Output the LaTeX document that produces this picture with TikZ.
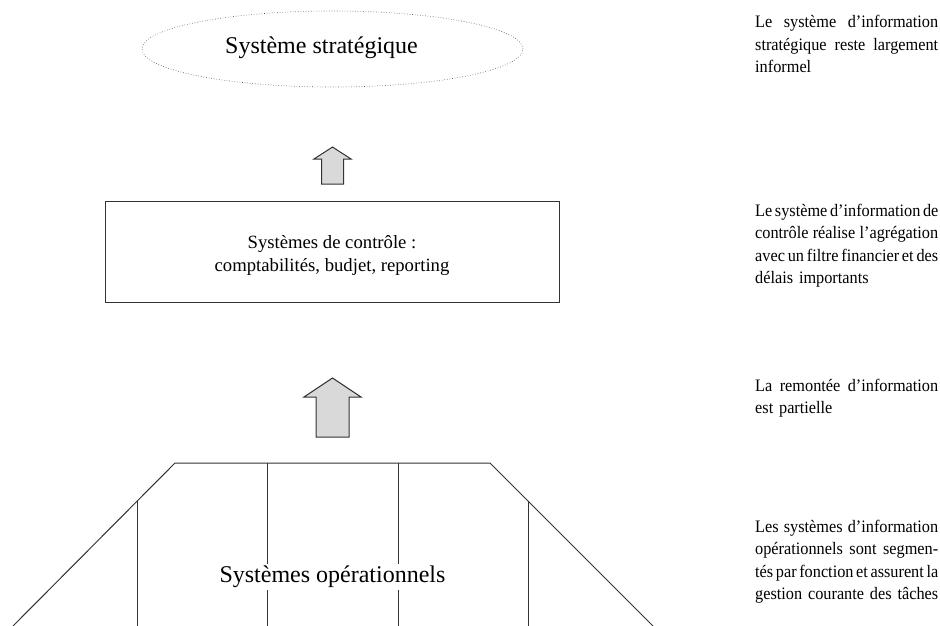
\documentclass[tikz,border=0pt]{standalone}
\usepackage{fontspec}
\setmainfont{Liberation Serif}
\newfontfamily\notefont[FakeStretch=0.93]{Liberation Serif}
\usetikzlibrary{positioning,calc,shapes.geometric}
\setlength{\parindent}{0pt}

\newcommand{\jline}[1]{{\spaceskip=0.25em plus 1em minus 0.1em\xspaceskip=0pt\makebox[183pt][s]{#1}}}

\begin{document}
\begin{tikzpicture}[
    x=1pt, y=-1pt,
    line/.style={draw=black!80, line width=1pt},
    bigtext/.style={font=\fontsize{24}{28}\selectfont},
    boxtext/.style={font=\fontsize{18.7}{23}\selectfont},
    blockarrow/.style={draw=black!80, line width=1pt, fill=black!15, line join=miter},
    note/.style={anchor=base west, inner sep=0pt, text width=183pt,
      font=\notefont\fontsize{17.5}{22.5}\selectfont}
  ]
    \useasboundingbox (0,0) rectangle (940,626);

    % les trois niveaux
    \node[ellipse, draw=black!70, dotted, line width=0.6pt, minimum width=381pt, minimum height=76pt] (strat) at (332.5,49) {};
    \node[bigtext] (stratlabel) at (321.5,48) {Système stratégique};
    \node[line, minimum width=454pt, minimum height=101pt] (ctrl) at (332,251.5) {};
    \node[boxtext, align=center] (ctrllabel) at (332,256) {Systèmes de contrôle :\\comptabilités, budjet, reporting};

    \draw[line] (13,626) -- (175,463) -- (490,463) -- (653,626);
    \draw[line] (137,501) -- (137,626);
    \draw[line] (267,463) -- (267,626);
    \draw[line] (398,463) -- (398,626);
    \draw[line] (528,501) -- (528,626);
    \node[bigtext, fill=white, inner sep=2pt] (ops) at (332.5,577) {Systèmes opérationnels};

    % remontee d'information
    \draw[blockarrow] (321.5,184) -- (321.5,159) -- (314,159) -- (332.5,147) -- (351,159) -- (343.5,159) -- (343.5,184) -- cycle;
    \draw[blockarrow] (316,437) -- (316,397) -- (304,397) -- (332.5,378) -- (361,397) -- (349,397) -- (349,437) -- cycle;

    % commentaires
    \node[note] (n1) at (755,28) {\jline{Le système d’information}\\\jline{stratégique reste largement}\\informel};
    \node[note] (n2) at (755,216) {\jline{Le système d’information de}\\\jline{contrôle réalise l’agrégation}\\\jline{avec un filtre financier et des}\\délais importants};
    \node[note] (n3) at (755,391) {\jline{La remontée d’information}\\est partielle};
    \node[note] (n4) at (755,532) {\jline{Les systèmes d’information}\\\jline{opérationnels sont segmen-}\\\jline{tés par fonction et assurent la}\\\jline{gestion courante des tâches}};
\end{tikzpicture}
\end{document}
